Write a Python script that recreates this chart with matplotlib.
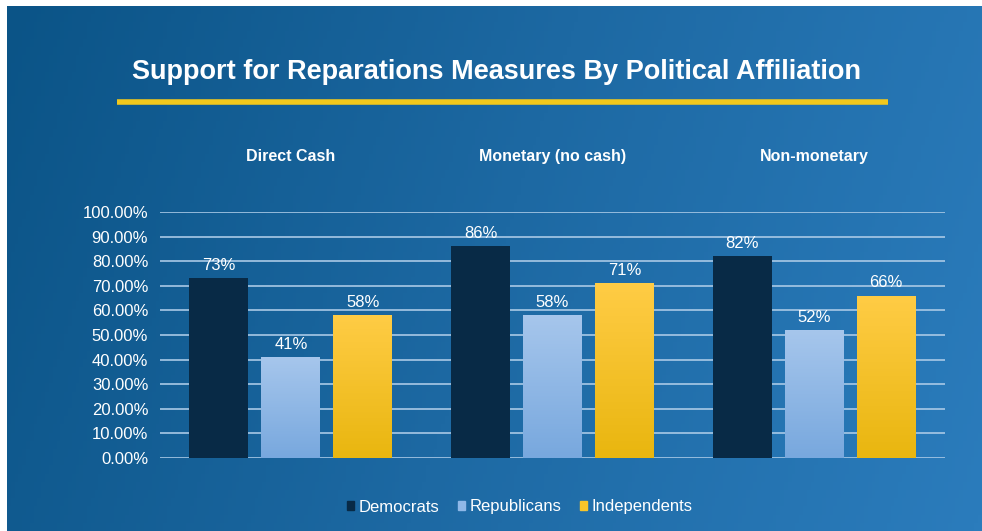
import numpy as np
import matplotlib
matplotlib.use('Agg')
import matplotlib.pyplot as plt
from matplotlib.colors import LinearSegmentedColormap

plt.rcParams['font.family'] = ['Liberation Sans', 'DejaVu Sans']

# data
categories = ['Direct Cash', 'Monetary (no cash)', 'Non-monetary']
series = ['Democrats', 'Republicans', 'Independents']
democrats = [0.73, 0.86, 0.82]
republicans = [0.41, 0.58, 0.52]
independents = [0.58, 0.71, 0.66]
yticks = [0.0, 0.1, 0.2, 0.3, 0.4, 0.5, 0.6, 0.7, 0.8, 0.9, 1.0]

fig = plt.figure(figsize=(9.82, 5.31), dpi=100)
fig.patch.set_facecolor('white')

# background gradient (with thin white border top/left like the screenshot)
bg = fig.add_axes([7/982, 0, 1 - 7/982, 1 - 6/531], zorder=-5)
bg.set_axis_off()
gx = np.linspace(0, 1, 256)
gy = np.linspace(0, 1, 64)
G = gx[None, :] * 0.85 + gy[:, None] * 0.15
bg_cmap = LinearSegmentedColormap.from_list('bg', ['#0b5487', '#1d69a3', '#2b7cbc'])
bg.imshow(G, cmap=bg_cmap, aspect='auto', extent=[0, 1, 0, 1], origin='upper')
bg.set_xlim(0, 1)
bg.set_ylim(0, 1)

# title + yellow rule
fig.text(0.506, 1 - 72/531, 'Support for Reparations Measures By Political Affiliation',
         color='white', fontsize=19.5, fontweight='bold', ha='center', va='center')
fig.add_artist(plt.Line2D([117/982, 888/982], [1 - 102/531, 1 - 102/531],
                          color='#f2c81c', lw=4, solid_capstyle='butt'))

ax = fig.add_axes([160/982, 1 - 458/531, 785/982, 246/531])
ax.set_facecolor('none')
x = np.arange(len(categories))
w = 0.225
off = 0.275

bars_d = ax.bar(x - off, democrats, w, color='#082a46', zorder=3)
bars_r = ax.bar(x, republicans, w, color='#8fb8e8', zorder=3)
bars_i = ax.bar(x + off, independents, w, color='#f8c52a', zorder=3)

# vertical gradients on the lighter bars
rep_cmap = LinearSegmentedColormap.from_list('rep', ['#a6c6ec', '#78a8de'])
ind_cmap = LinearSegmentedColormap.from_list('ind', ['#ffcc45', '#e9b60f'])
grad = np.linspace(0, 1, 100)[:, None]
for bars, cm in [(bars_r, rep_cmap), (bars_i, ind_cmap)]:
    for b in bars:
        bx, by = b.get_x(), b.get_y()
        im = ax.imshow(grad, cmap=cm, aspect='auto', origin='upper',
                       extent=[bx, bx + b.get_width(), by, by + b.get_height()], zorder=4)
        im.set_clip_path(b)

for bars, vals in [(bars_d, democrats), (bars_r, republicans), (bars_i, independents)]:
    for b, v in zip(bars, vals):
        ax.text(b.get_x() + b.get_width() / 2, v + 0.022, f'{round(v*100)}%',
                ha='center', va='bottom', color='white', fontsize=12, zorder=5)

ax.set_xlim(-0.5, len(categories) - 0.5)
ax.set_ylim(0, 1.0)
ax.set_yticks(yticks)
ax.set_yticklabels([f'{t*100:.2f}%' for t in yticks])
ax.set_xticks([])
ax.tick_params(axis='y', length=0, pad=8.5, labelcolor='white', labelsize=12)
ax.grid(axis='y', color='#a9c9e6', lw=1.2, zorder=0)
ax.set_axisbelow(True)
for s in ax.spines.values():
    s.set_visible(False)

# category headers
for xi, c in zip(x, categories):
    ax.text(xi, 1.225, c, ha='center', va='center', color='white',
            fontsize=11.5, fontweight='bold')

# legend
handles = [plt.Rectangle((0, 0), 1, 1, color=c) for c in ['#082a46', '#8fb8e8', '#f8c52a']]
leg = fig.legend(handles, series, loc='center', bbox_to_anchor=(0.5295, 1 - 507/531),
                 ncol=3, frameon=False, fontsize=12, handlelength=0.4, handleheight=0.4,
                 handletextpad=0.3, columnspacing=1.1)
for t in leg.get_texts():
    t.set_color('white')

fig.savefig('out.png', dpi=100)
